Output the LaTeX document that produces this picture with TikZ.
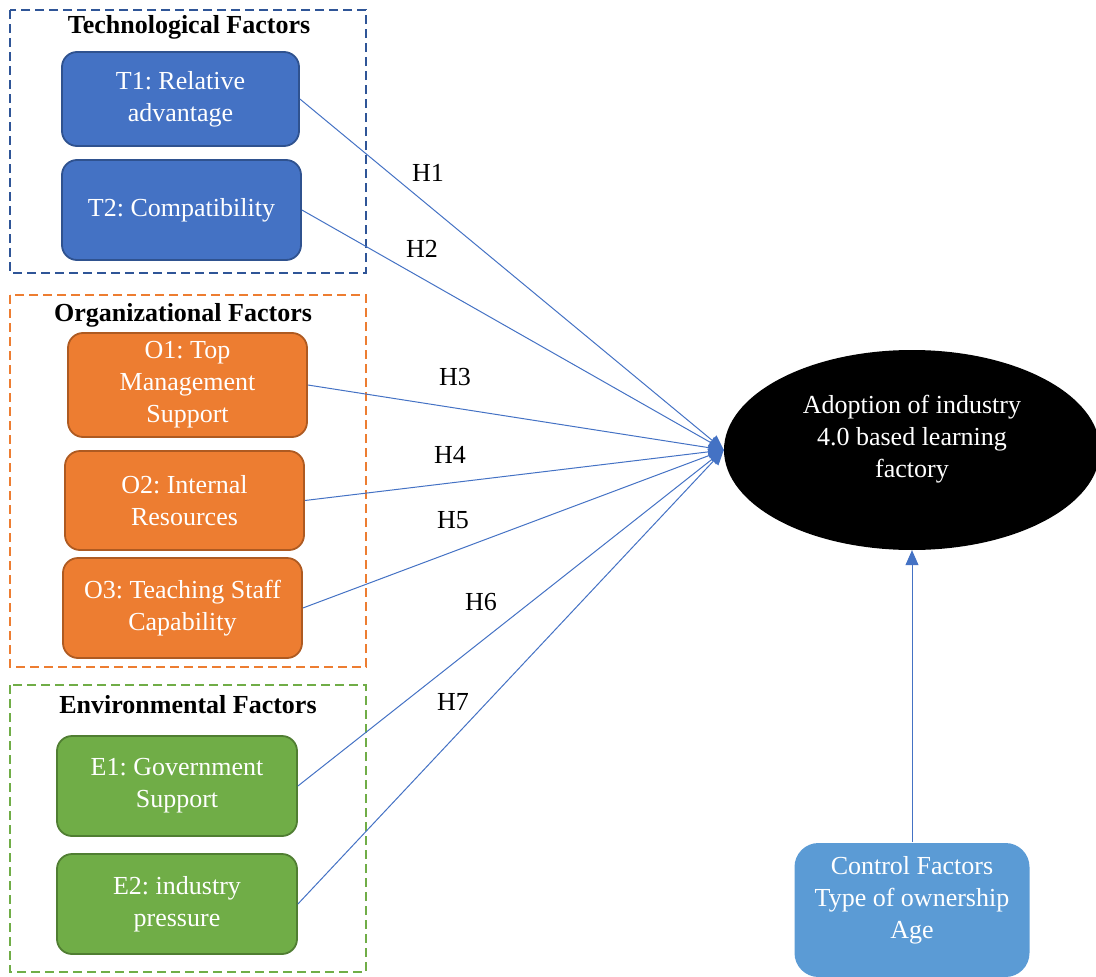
\documentclass[tikz,border=0pt]{standalone}
\usepackage{fontspec}
\setmainfont{Liberation Serif}
\frenchspacing
\usetikzlibrary{positioning, shapes.geometric, arrows.meta}

\definecolor{techfill}{HTML}{4472C4}
\definecolor{techline}{HTML}{2F528F}
\definecolor{techframe}{HTML}{2F5597}
\definecolor{orgfill}{HTML}{ED7D31}
\definecolor{orgline}{HTML}{AE5A21}
\definecolor{envfill}{HTML}{70AD47}
\definecolor{envline}{HTML}{507E32}
\definecolor{ctrlfill}{HTML}{5B9BD5}

\tikzset{
  factor/.style={rectangle, rounded corners=15pt, line width=1.8pt, text=white, align=center, inner sep=0pt},
  frame/.style={line width=2.2pt, dash pattern=on 9pt off 5pt},
  hyp/.style={draw=techfill, line width=1pt, -{Triangle[length=15pt,width=13pt]}},
}

\begin{document}
\begin{tikzpicture}[x=1pt, y=-1pt, font=\fontsize{26}{32}\selectfont]
\useasboundingbox (0,0) rectangle (1096,977);

% frames
\draw[frame, draw=techframe] (10,10) rectangle (366,273);
\draw[frame, draw=orgfill] (10,295) rectangle (366,667);
\draw[frame, draw=envfill] (10,685) rectangle (366,972);
\node[font=\fontsize{26}{32}\selectfont\bfseries] (techhead) at (189,27) {Technological Factors};
\node[font=\fontsize{26}{32}\selectfont\bfseries] (orghead) at (183,315) {Organizational Factors};
\node[font=\fontsize{26}{32}\selectfont\bfseries] (envhead) at (188,705) {Environmental Factors};

% factors
\node[factor, fill=techfill, draw=techline, minimum width=237pt, minimum height=94pt] (t1) at (180.5,99) {T1: Relative\\advantage};
\node[factor, fill=techfill, draw=techline, minimum width=239pt, minimum height=100pt] (t2) at (181.5,210) {T2: Compatibility};
\node[factor, fill=orgfill, draw=orgline, minimum width=239pt, minimum height=104pt] (o1) at (187.5,385) {O1: Top\\Management\\Support};
\node[factor, fill=orgfill, draw=orgline, minimum width=239pt, minimum height=99pt] (o2) at (184.5,500.5) {O2: Internal\\Resources};
\node[factor, fill=orgfill, draw=orgline, minimum width=239pt, minimum height=100pt] (o3) at (182.5,608) {O3: Teaching Staff\\Capability};
\node[factor, fill=envfill, draw=envline, minimum width=240pt, minimum height=100pt] (e1) at (177,786) {E1: Government\\Support};
\node[factor, fill=envfill, draw=envline, minimum width=240pt, minimum height=100pt] (e2) at (177,904) {E2: industry\\pressure};

% outcome and controls
\node[ellipse, fill=black, inner sep=0pt, minimum width=376pt, minimum height=200pt] (adopt) at (912,450) {};
\node[text=white, align=center] (adopttext) at ([yshift=11pt]adopt.center) {Adoption of industry\\4.0 based learning\\factory};
\node[factor, fill=ctrlfill, rounded corners=24pt, minimum width=235pt, minimum height=134pt] (control) at (912,910) {};
\node[text=white, align=center] (controltext) at ([yshift=10pt]control.center) {Control Factors\\Type of ownership\\Age};

% hypotheses
\draw[hyp] (t1.east) -- (adopt.west);
\draw[hyp] (t2.east) -- (adopt.west);
\draw[hyp] (o1.east) -- (adopt.west);
\draw[hyp] (o2.east) -- (adopt.west);
\draw[hyp] (o3.east) -- (adopt.west);
\draw[hyp] (e1.east) -- (adopt.west);
\draw[hyp] (e2.east) -- (adopt.west);
\draw[hyp] (control.north) -- (adopt.south);

\node (h1) at (428,173) {H1};
\node (h2) at (422,249) {H2};
\node (h3) at (455,377) {H3};
\node (h4) at (450,455) {H4};
\node (h5) at (453,520) {H5};
\node (h6) at (481,602) {H6};
\node (h7) at (453,702) {H7};

\end{tikzpicture}
\end{document}
